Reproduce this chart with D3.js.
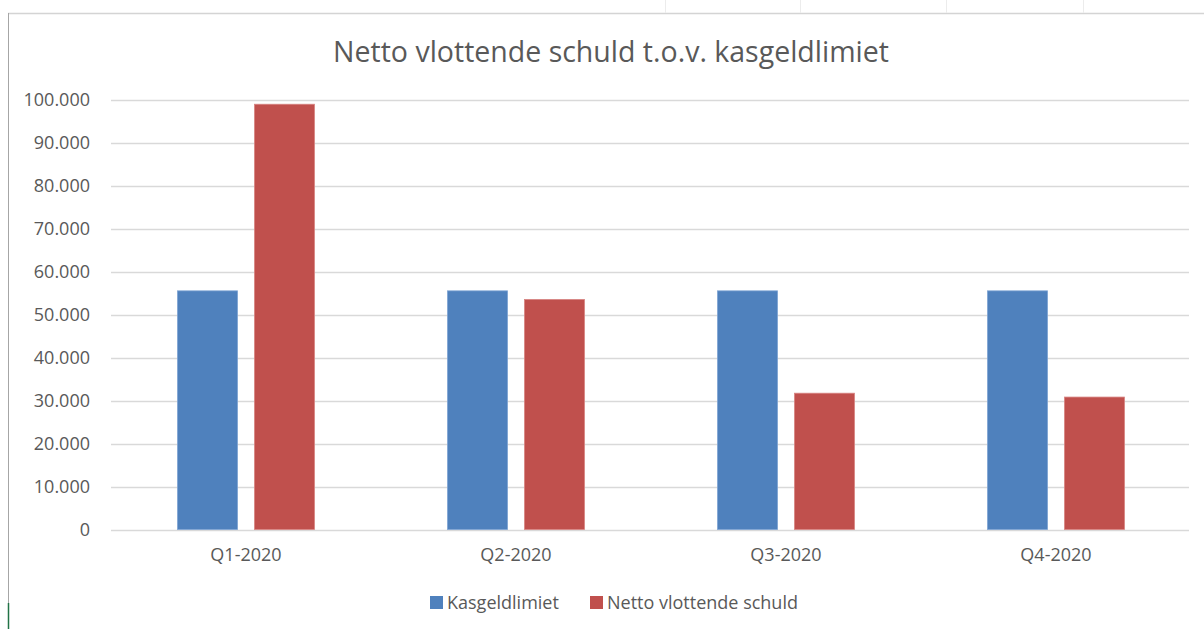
<!DOCTYPE html>
<html lang="nl">
<head>
  <meta charset="UTF-8">
  <title>Netto vlottende schuld t.o.v. kasgeldlimiet</title>
  <script src="https://d3js.org/d3.v7.min.js"></script>
  <style>
    body { margin: 0; background: #fff; }
    svg { display: block; font-family: "Open Sans", sans-serif; }
  </style>
</head>
<body>
  <div id="chart"></div>
  <script>
    const categories = ["Q1-2020", "Q2-2020", "Q3-2020", "Q4-2020"];
    const series = ["Kasgeldlimiet", "Netto vlottende schuld"];
    const kasgeldlimiet = [55500, 55500, 55500, 55500];
    const nettoSchuld = [98900, 53500, 31700, 30800];
    const yTicks = [0, 10000, 20000, 30000, 40000, 50000, 60000, 70000, 80000, 90000, 100000];

    const values = [kasgeldlimiet, nettoSchuld];
    const colors = ["#4f81bd", "#c0504d"];
    const strokes = ["#7ea3d3", "#d88482"];

    const width = 1204, height = 629;
    const svg = d3.select("#chart").append("svg")
      .attr("width", width).attr("height", height);

    // sheet frame bits
    svg.append("line").attr("x1", 8).attr("x2", width).attr("y1", 13.5).attr("y2", 13.5)
      .attr("stroke", "#d4d4d4").attr("stroke-width", 1.5);
    svg.append("line").attr("x1", 8.5).attr("x2", 8.5).attr("y1", 13).attr("y2", 603)
      .attr("stroke", "#a6a6a6");
    svg.append("line").attr("x1", 8.5).attr("x2", 8.5).attr("y1", 603).attr("y2", height)
      .attr("stroke", "#217346").attr("stroke-width", 1.5);
    [665, 800, 946, 1083].forEach(x => {
      svg.append("line").attr("x1", x + 0.5).attr("x2", x + 0.5).attr("y1", 0).attr("y2", 13)
        .attr("stroke", "#ececec");
    });

    const x0 = d3.scaleBand().domain(categories).range([111, 1191]).padding(0);
    const x1 = d3.scaleBand().domain(series).range([66.5, 203.5]).paddingInner(0.22);
    const y = d3.scaleLinear().domain([0, 100000]).range([529.5, 99.5]);

    const fmt = d => d3.format(",")(d).replace(/,/g, ".");

    // grid
    svg.append("g").selectAll("line").data(yTicks).join("line")
      .attr("x1", 111).attr("x2", 1189)
      .attr("y1", d => Math.round(y(d)) + 0.5).attr("y2", d => Math.round(y(d)) + 0.5)
      .attr("stroke", "#d9d9d9").attr("stroke-width", 1.3);

    // y labels
    svg.append("g").selectAll("text").data(yTicks).join("text")
      .attr("x", 90).attr("y", d => y(d)).attr("dy", "0.35em")
      .attr("text-anchor", "end")
      .attr("font-size", 18).attr("fill", "#595959")
      .text(fmt);

    // bars
    const groups = svg.append("g").selectAll("g").data(categories).join("g")
      .attr("transform", d => `translate(${x0(d)},0)`);
    groups.selectAll("rect")
      .data((c, i) => series.map((s, j) => ({ s, j, v: values[j][i] })))
      .join("rect")
      .attr("x", d => x1(d.s))
      .attr("width", x1.bandwidth())
      .attr("y", d => y(d.v))
      .attr("height", d => y(0) - y(d.v))
      .attr("fill", d => colors[d.j])
      .attr("stroke", d => strokes[d.j])
      .attr("stroke-width", 0.8);

    // x labels
    svg.append("g").selectAll("text").data(categories).join("text")
      .attr("x", d => x0(d) + x0.bandwidth() / 2).attr("y", 561)
      .attr("text-anchor", "middle")
      .attr("font-size", 18).attr("fill", "#595959")
      .text(d => d);

    // title
    svg.append("text")
      .attr("x", 611).attr("y", 62)
      .attr("text-anchor", "middle")
      .attr("font-size", 28.5).attr("fill", "#595959")
      .text("Netto vlottende schuld t.o.v. kasgeldlimiet");

    // legend
    const legendX = [430, 590];
    const legend = svg.append("g").selectAll("g").data(series).join("g")
      .attr("transform", (d, i) => `translate(${legendX[i]},596)`);
    legend.append("rect").attr("width", 13).attr("height", 13)
      .attr("fill", (d, i) => colors[i]);
    legend.append("text").attr("x", 17).attr("y", 6.5).attr("dy", "0.35em")
      .attr("font-size", 18).attr("fill", "#595959")
      .text(d => d);
  </script>
</body>
</html>
